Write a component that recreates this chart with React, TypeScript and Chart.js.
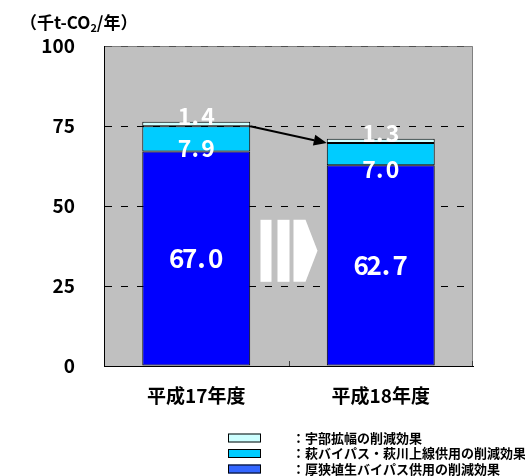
import React, { useEffect, useRef } from 'react';
import { Chart, registerables } from 'chart.js';

Chart.register(...registerables);

// Fiscal years compared
const categories = ['平成17年度', '平成18年度'];
// CO2 reduction per measure (thousand t-CO2 / year)
const asaBypassValues = [67.0, 62.7];
const hagiBypassValues = [7.9, 7.0];
const ubeWideningValues = [1.4, 1.3];
// Y axis
const yTickValues = [0, 25, 50, 75, 100];

const seriesLabels = [
  '厚狭埴生バイパス供用の削減効果',
  '萩バイパス・萩川上線供用の削減効果',
  '宇部拡幅の削減効果',
];
const barColors = ['#0000FF', '#00CCFF', '#CCFFFF'];
const legendColors = ['#3366FF', '#00CCFF', '#CCFFFF'];

const JP = '"Noto Sans CJK JP", "Noto Sans", sans-serif';

function drawCellText(ctx: CanvasRenderingContext2D, text: string, cx: number, cy: number, size: number, cell: number) {
  ctx.font = `bold ${size}px ${JP}`;
  ctx.textBaseline = 'middle';
  const chars = [...text];
  const start = cx - (cell * chars.length) / 2;
  chars.forEach((ch, i) => {
    if (ch === '.') {
      ctx.textAlign = 'left';
      ctx.fillText(ch, start + cell * i + 1, cy);
    } else {
      ctx.textAlign = 'center';
      ctx.fillText(ch, start + cell * (i + 0.5), cy);
    }
  });
}

const decorations = {
  id: 'decorations',
  beforeDraw(chart: any) {
    const { ctx, chartArea: a } = chart;
    ctx.save();
    ctx.fillStyle = '#C0C0C0';
    ctx.fillRect(a.left, a.top, a.right - a.left, a.bottom - a.top);
    ctx.strokeStyle = '#808080';
    ctx.lineWidth = 1;
    ctx.beginPath();
    ctx.moveTo(a.left, a.top + 0.5);
    ctx.lineTo(a.right - 0.5, a.top + 0.5);
    ctx.lineTo(a.right - 0.5, a.bottom);
    ctx.stroke();
    ctx.restore();
  },
  afterDatasetsDraw(chart: any) {
    const { ctx, chartArea: a } = chart;
    const bottom = chart.getDatasetMeta(0).data;
    const middle = chart.getDatasetMeta(1).data;
    const top = chart.getDatasetMeta(2).data;
    const data = chart.data.datasets;
    ctx.save();
    ctx.fillStyle = '#FFFFFF';
    const midOffsets = [9, 15];
    for (let i = 0; i < bottom.length; i++) {
      const b = bottom[i];
      const m = middle[i];
      const t = top[i];
      drawCellText(ctx, data[0].data[i].toFixed(1), b.x, (b.y + b.base) / 2, 26, 13);
      drawCellText(ctx, data[1].data[i].toFixed(1), m.x, (m.y + m.base) / 2 + midOffsets[i], 23, 11.7);
      drawCellText(ctx, data[2].data[i].toFixed(1), t.x, t.y - 6, 23, 11.7);
    }

    // trend arrow between the two bars
    const m0 = middle[0];
    const m1 = middle[1];
    const x0 = m0.x + m0.width / 2;
    const y0 = m0.y;
    const x1 = m1.x - m1.width / 2;
    const y1 = m1.y;
    const ang = Math.atan2(y1 - y0, x1 - x0);
    const headLen = 13;
    const headHalf = 5.5;
    ctx.strokeStyle = '#000';
    ctx.fillStyle = '#000';
    ctx.lineWidth = 2;
    ctx.beginPath();
    ctx.moveTo(x0, y0);
    ctx.lineTo(x1 - headLen * Math.cos(ang), y1 - headLen * Math.sin(ang));
    ctx.stroke();
    ctx.beginPath();
    ctx.moveTo(x1, y1);
    ctx.lineTo(x1 - headLen * Math.cos(ang) + headHalf * Math.sin(ang), y1 - headLen * Math.sin(ang) - headHalf * Math.cos(ang));
    ctx.lineTo(x1 - headLen * Math.cos(ang) - headHalf * Math.sin(ang), y1 - headLen * Math.sin(ang) + headHalf * Math.cos(ang));
    ctx.closePath();
    ctx.fill();

    // white block arrow between categories
    const cx = (bottom[0].x + bottom[1].x) / 2;
    const yScale = chart.scales.y;
    const cy = yScale.getPixelForValue(36);
    const h = 31;
    ctx.fillStyle = '#FFFFFF';
    ctx.fillRect(cx - 28, cy - h, 11, h * 2);
    ctx.fillRect(cx - 11, cy - h, 12, h * 2);
    ctx.beginPath();
    ctx.moveTo(cx + 5, cy - h);
    ctx.lineTo(cx + 17, cy - h);
    ctx.lineTo(cx + 29, cy);
    ctx.lineTo(cx + 17, cy + h);
    ctx.lineTo(cx + 5, cy + h);
    ctx.closePath();
    ctx.fill();

    // small inner tick marks on the category axis
    ctx.strokeStyle = '#404040';
    ctx.lineWidth = 1;
    ctx.beginPath();
    ctx.moveTo(Math.round(cx) + 0.5, a.bottom);
    ctx.lineTo(Math.round(cx) + 0.5, a.bottom - 5);
    ctx.moveTo(a.right - 0.5, a.bottom);
    ctx.lineTo(a.right - 0.5, a.bottom - 5);
    ctx.stroke();
    ctx.restore();
  },
  afterDraw(chart: any) {
    const { ctx } = chart;
    ctx.save();
    ctx.fillStyle = '#000';
    ctx.textBaseline = 'middle';
    ctx.textAlign = 'left';
    // unit title
    ctx.font = `bold 17px ${JP}`;
    let x = 20;
    const ty = 23;
    const partA = '（千t-CO';
    ctx.fillText(partA, x, ty);
    x += ctx.measureText(partA).width;
    ctx.font = `bold 11px ${JP}`;
    ctx.fillText('2', x, ty + 5);
    x += ctx.measureText('2').width;
    ctx.font = `bold 17px ${JP}`;
    ctx.fillText('/年）', x, ty);

    // legend, top segment first
    const order = [2, 1, 0];
    order.forEach((ds, row) => {
      const y = 438 + row * 15.5;
      ctx.fillStyle = legendColors[ds];
      ctx.fillRect(228, y - 4.5, 33, 9);
      ctx.strokeStyle = '#000';
      ctx.lineWidth = 1;
      ctx.strokeRect(228.5, y - 4, 32, 8);
      ctx.fillStyle = '#000';
      ctx.font = `bold 13px ${JP}`;
      ctx.fillText('：' + chart.data.datasets[ds].label, 292, y);
    });
    ctx.restore();
  },
};

export default function App() {
  const canvasRef = useRef<HTMLCanvasElement | null>(null);

  useEffect(() => {
    const canvas = canvasRef.current;
    if (!canvas) return;
    const values = [asaBypassValues, hagiBypassValues, ubeWideningValues];
    const chart = new Chart(canvas, {
      type: 'bar',
      data: {
        labels: categories,
        datasets: values.map((v, i) => ({
          label: seriesLabels[i],
          data: v,
          backgroundColor: barColors[i],
          borderColor: '#000000',
          borderWidth: 1,
          borderSkipped: false,
          barPercentage: 0.585,
          categoryPercentage: 1,
        })),
      },
      options: {
        responsive: false,
        animation: false,
        devicePixelRatio: 1,
        layout: { padding: { top: 46, right: 52, left: 0, bottom: 0 } },
        plugins: {
          legend: { display: false },
          tooltip: { enabled: false },
        },
        scales: {
          x: {
            stacked: true,
            grid: { display: false, drawTicks: false },
            border: { display: true, color: '#000000', width: 1 },
            ticks: {
              color: '#000',
              font: { family: JP, size: 19, weight: 'bold' },
              padding: 18,
            },
            afterFit(scale: any) {
              scale.height = 110;
            },
          },
          y: {
            stacked: true,
            min: 0,
            max: 100,
            afterBuildTicks(scale: any) {
              scale.ticks = yTickValues.map((value) => ({ value }));
            },
            grid: {
              drawTicks: false,
              color: (c: any) => {
                const v = c.tick ? c.tick.value : 0;
                if (v === 100) return '#505050';
                return v > 0 ? '#000000' : 'rgba(0,0,0,0)';
              },
              lineWidth: 1,
            },
            border: { display: true, color: '#000000', width: 1, dash: [7, 9] },
            ticks: {
              color: '#000',
              font: { family: JP, size: 19, weight: 'bold' },
              padding: 29,
            },
            afterFit(scale: any) {
              scale.width = 104;
            },
          },
        },
      },
      plugins: [decorations],
    });
    return () => chart.destroy();
  }, []);

  return (
    <div style={{ position: 'fixed', left: 0, top: 0, width: 525, height: 476, background: '#fff' }}>
      <canvas ref={canvasRef} width={525} height={476} style={{ display: 'block' }} />
    </div>
  );
}
